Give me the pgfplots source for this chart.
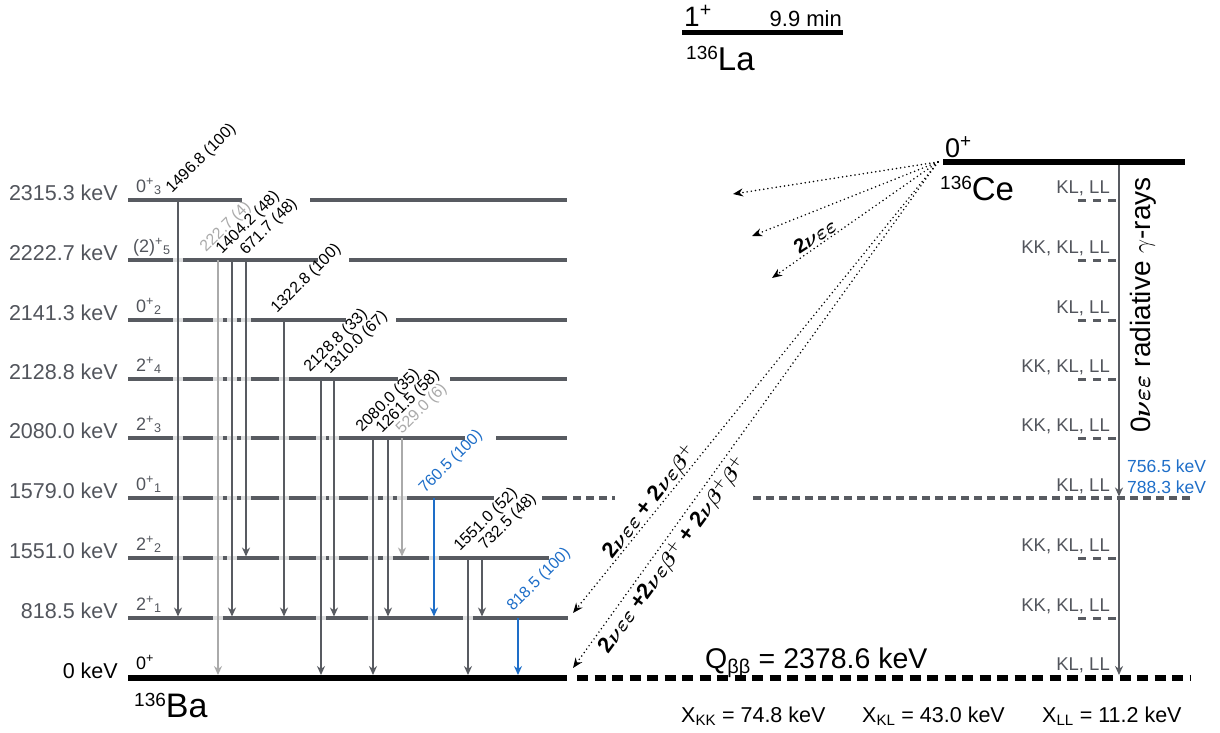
\documentclass[border=0pt]{standalone}
\usepackage{fontspec}
\setmainfont{Liberation Sans}
\usepackage{amsmath}
\usepackage{bm}
\usepackage{pgfplots}
\pgfplotsset{compat=1.18}
\usetikzlibrary{arrows.meta}
\definecolor{lvl}{RGB}{88,91,97}
\definecolor{lgray}{RGB}{170,170,170}
\definecolor{tblue}{RGB}{30,110,200}
\definecolor{txtg}{RGB}{82,85,92}
\newcommand{\fs}[1]{\fontsize{#1}{#1}\selectfont}
\newcommand{\spin}[2]{#1\textsuperscript{+}\textsubscript{#2}}
\newcommand{\gre}[1]{$\bm{#1}$}
\begin{document}
\begin{tikzpicture}[
  lev/.style={lvl, line width=3.5pt},
  halo/.style={white, opacity=0.8, line width=10pt},
  tr/.style={line width=2pt, -{Stealth[length=9pt,width=8pt]}},
  dots/.style={black, line width=1.7pt, dash pattern=on 0pt off 4.2pt, line cap=round, -{Stealth[length=10pt,width=8pt]}},
  tl/.style={rotate=45, anchor=base west, inner sep=0pt, font={\fs{16}}},
  el/.style={anchor=base east, inner sep=0pt, font={\fs{21.5}}, text=txtg},
  sl/.style={anchor=base west, inner sep=0pt, font={\fs{18}}, text=txtg},
  kl/.style={anchor=base east, inner sep=0pt, font={\fs{18.5}}, text=txtg},
  kd/.style={lvl, line width=3pt, dash pattern=on 8pt off 7pt},
]
\begin{axis}[
  width=1220pt, height=732pt, scale only axis,
  xmin=0, xmax=1220, ymin=0, ymax=732, y dir=reverse,
  hide axis, clip=false,
]
% ---------- levels of 136Ba ----------
\addplot[lev] coordinates {(128,200) (242,200)};
\addplot[lev] coordinates {(310,200) (567,200)};
\addplot[lev] coordinates {(128,260) (318,260)};
\addplot[lev] coordinates {(349,260) (567,260)};
\addplot[lev] coordinates {(128,320) (346,320)};
\addplot[lev] coordinates {(396,320) (567,320)};
\addplot[lev] coordinates {(128,379) (398,379)};
\addplot[lev] coordinates {(450,379) (567,379)};
\addplot[lev] coordinates {(128,438) (465,438)};
\addplot[lev] coordinates {(496,438) (567,438)};
\addplot[lev] coordinates {(128,498) (494,498)};
\addplot[lev] coordinates {(542,498) (567,498)};
\addplot[lvl, line width=3.5pt, dash pattern=on 8pt off 5pt] coordinates {(573,498) (615,498)};
\addplot[lev] coordinates {(128,558) (549,558)};
\addplot[lev] coordinates {(128,618) (568,618)};
\addplot[black, line width=6.5pt] coordinates {(128,678) (567,678)};
% ---------- right side ----------
\addplot[lvl, line width=3.5pt, dash pattern=on 8pt off 5pt] coordinates {(753,498) (1190,498)};
\addplot[black, line width=6pt, dash pattern=on 11pt off 6.5pt] coordinates {(577,678) (1190,678)};
\addplot[kd] coordinates {(1078,200) (1116,200)};
\addplot[kd] coordinates {(1078,260) (1116,260)};
\addplot[kd] coordinates {(1078,320) (1116,320)};
\addplot[kd] coordinates {(1078,379) (1116,379)};
\addplot[kd] coordinates {(1078,438) (1116,438)};
\addplot[kd] coordinates {(1078,558) (1116,558)};
\addplot[kd] coordinates {(1078,618) (1116,618)};
% Ce and La levels
\addplot[black, line width=6.5pt] coordinates {(943,162) (1185,162)};
\addplot[black, line width=5pt] coordinates {(682,32.5) (843,32.5)};
% ---------- halos ----------
\addplot[halo] coordinates {(178,204) (178,614)};
\addplot[halo] coordinates {(218,264) (218,672)};
\addplot[halo] coordinates {(232,264) (232,614)};
\addplot[halo] coordinates {(246,264) (246,554)};
\addplot[halo] coordinates {(284,324) (284,614)};
\addplot[halo] coordinates {(321,383) (321,672)};
\addplot[halo] coordinates {(334,383) (334,614)};
\addplot[halo] coordinates {(373,442) (373,672)};
\addplot[halo] coordinates {(388,442) (388,614)};
\addplot[halo] coordinates {(402,442) (402,554)};
\addplot[halo] coordinates {(434,502) (434,614)};
\addplot[halo] coordinates {(468,562) (468,672)};
\addplot[halo] coordinates {(482,562) (482,614)};
% ---------- transitions ----------
\addplot[tr, lvl] coordinates {(178,200) (178,616.5)};
\addplot[tr, lgray] coordinates {(218,260) (218,675)};
\addplot[tr, lvl] coordinates {(232,260) (232,616.5)};
\addplot[tr, lvl] coordinates {(246,260) (246,556.5)};
\addplot[tr, lvl] coordinates {(284,320) (284,616.5)};
\addplot[tr, lvl] coordinates {(321,379) (321,675)};
\addplot[tr, lvl] coordinates {(334,379) (334,616.5)};
\addplot[tr, lvl] coordinates {(373,438) (373,675)};
\addplot[tr, lvl] coordinates {(388,438) (388,616.5)};
\addplot[tr, lgray] coordinates {(402,438) (402,556.5)};
\addplot[tr, tblue] coordinates {(434,498) (434,616.5)};
\addplot[tr, lvl] coordinates {(468,558) (468,675)};
\addplot[tr, lvl] coordinates {(482,558) (482,616.5)};
\addplot[tr, tblue] coordinates {(518,618) (518,675)};
% right gamma line
\addplot[tr, lvl] coordinates {(1119,165) (1119,496.5)};
\addplot[tr, lvl] coordinates {(1119,498) (1119,675)};
% ---------- double beta decay arrows ----------
\addplot[dots] coordinates {(938,162) (733,194)};
\addplot[dots] coordinates {(938,162) (752,236)};
\addplot[dots] coordinates {(938,162) (772,278)};
\addplot[dots] coordinates {(938,162) (573,613)};
\addplot[dots] coordinates {(938,162) (573,668)};
% ---------- transition labels ----------
\node[tl] at (axis cs:172,194) {1496.8 (100)};
\node[tl, text=lgray] at (axis cs:206,253) {222.7 (4)};
\node[tl] at (axis cs:222,255) {1404.2 (48)};
\node[tl] at (axis cs:246,256) {671.7 (48)};
\node[tl] at (axis cs:277,314) {1322.8 (100)};
\node[tl] at (axis cs:310,373) {2128.8 (33)};
\node[tl] at (axis cs:330,375) {1310.0 (67)};
\node[tl] at (axis cs:362,433) {2080.0 (35)};
\node[tl] at (axis cs:382,434) {1261.5 (58)};
\node[tl, text=lgray] at (axis cs:402,435) {529.0 (6)};
\node[tl, text=tblue] at (axis cs:425,494) {760.5 (100)};
\node[tl] at (axis cs:460,552) {1551.0 (52)};
\node[tl] at (axis cs:485,551) {732.5 (48)};
\node[tl, text=tblue] at (axis cs:513,612) {818.5 (100)};
% ---------- level labels ----------
\node[el] at (axis cs:118,200) {2315.3 keV};
\node[el] at (axis cs:118,260) {2222.7 keV};
\node[el] at (axis cs:118,320) {2141.3 keV};
\node[el] at (axis cs:118,379) {2128.8 keV};
\node[el] at (axis cs:118,438) {2080.0 keV};
\node[el] at (axis cs:118,498) {1579.0 keV};
\node[el] at (axis cs:118,558) {1551.0 keV};
\node[el] at (axis cs:118,618) {818.5 keV};
\node[el, text=black] at (axis cs:118,678) {0 keV};
\node[sl] at (axis cs:136,192) {\spin{0}{3}};
\node[sl] at (axis cs:133,252) {\spin{(2)}{5}};
\node[sl] at (axis cs:136,312) {\spin{0}{2}};
\node[sl] at (axis cs:136,371) {\spin{2}{4}};
\node[sl] at (axis cs:136,430) {\spin{2}{3}};
\node[sl] at (axis cs:136,490) {\spin{0}{1}};
\node[sl] at (axis cs:136,550) {\spin{2}{2}};
\node[sl] at (axis cs:136,610) {\spin{2}{1}};
\node[sl, text=black] at (axis cs:136,669) {0\textsuperscript{+}};
% nuclei names
\node[anchor=base west, inner sep=0pt] at (axis cs:134,717) {\raisebox{11pt}{\fs{19}136}\fs{34}Ba};
\node[anchor=base west, inner sep=0pt] at (axis cs:940,200) {\raisebox{11pt}{\fs{19}136}\fs{33}Ce};
\node[anchor=base west, inner sep=0pt] at (axis cs:686,70) {\raisebox{11pt}{\fs{19}136}\fs{33}La};
\node[anchor=base west, inner sep=0pt, font={\fs{28}}] at (axis cs:684,26) {1\textsuperscript{+}};
\node[anchor=base east, inner sep=0pt, font={\fs{22}}] at (axis cs:842,26) {9.9 min};
\node[anchor=base west, inner sep=0pt, font={\fs{27}}] at (axis cs:945,157) {0\textsuperscript{+}};
% right side labels
\node[kl] at (axis cs:1110,193) {KL, LL};
\node[kl] at (axis cs:1110,253) {KK, KL, LL};
\node[kl] at (axis cs:1110,313) {KL, LL};
\node[kl] at (axis cs:1110,372) {KK, KL, LL};
\node[kl] at (axis cs:1110,431) {KK, KL, LL};
\node[kl] at (axis cs:1110,491) {KL, LL};
\node[kl] at (axis cs:1110,551) {KK, KL, LL};
\node[kl] at (axis cs:1110,611) {KK, KL, LL};
\node[kl] at (axis cs:1110,670) {KL, LL};
\node[anchor=base, inner sep=0pt, rotate=90, font={\fs{28}}] at (axis cs:1150,305) {0\gre{\nu\varepsilon\varepsilon} radiative $\gamma$-rays};
\node[anchor=base west, inner sep=0pt, font={\fs{17.5}}, text=tblue] at (axis cs:1127,472) {756.5 keV};
\node[anchor=base west, inner sep=0pt, font={\fs{17.5}}, text=tblue] at (axis cs:1127,493) {788.3 keV};
% decay labels
\node[rotate=33, font={\fs{20}\bfseries}, inner sep=0pt] at (axis cs:815,236) {2\gre{\nu\varepsilon\varepsilon}};
\node[rotate=52, font={\fs{22}\bfseries}, inner sep=0pt] at (axis cs:650,502) {2\gre{\nu\varepsilon\varepsilon} + 2\gre{\nu\varepsilon\beta^{+}}};
\node[rotate=54, font={\fs{22}\bfseries}, inner sep=0pt] at (axis cs:673,555) {2\gre{\nu\varepsilon\varepsilon} +2\gre{\nu\varepsilon\beta^{+}} + 2\gre{\nu\beta^{+}\beta^{+}}};
% Q value and X energies
\node[anchor=base west, inner sep=0pt, font={\fs{28.5}}] at (axis cs:705,668) {Q\textsubscript{ββ} = 2378.6 keV};
\node[anchor=base west, inner sep=0pt, font={\fs{21.5}}] at (axis cs:681,722) {X\textsubscript{KK} = 74.8 keV};
\node[anchor=base west, inner sep=0pt, font={\fs{21.5}}] at (axis cs:862,722) {X\textsubscript{KL} = 43.0 keV};
\node[anchor=base west, inner sep=0pt, font={\fs{21.5}}] at (axis cs:1042,722) {X\textsubscript{LL} = 11.2 keV};
\end{axis}
\pgfresetboundingbox
\path (current axis.south west) rectangle (current axis.north east);
\end{tikzpicture}
\end{document}
